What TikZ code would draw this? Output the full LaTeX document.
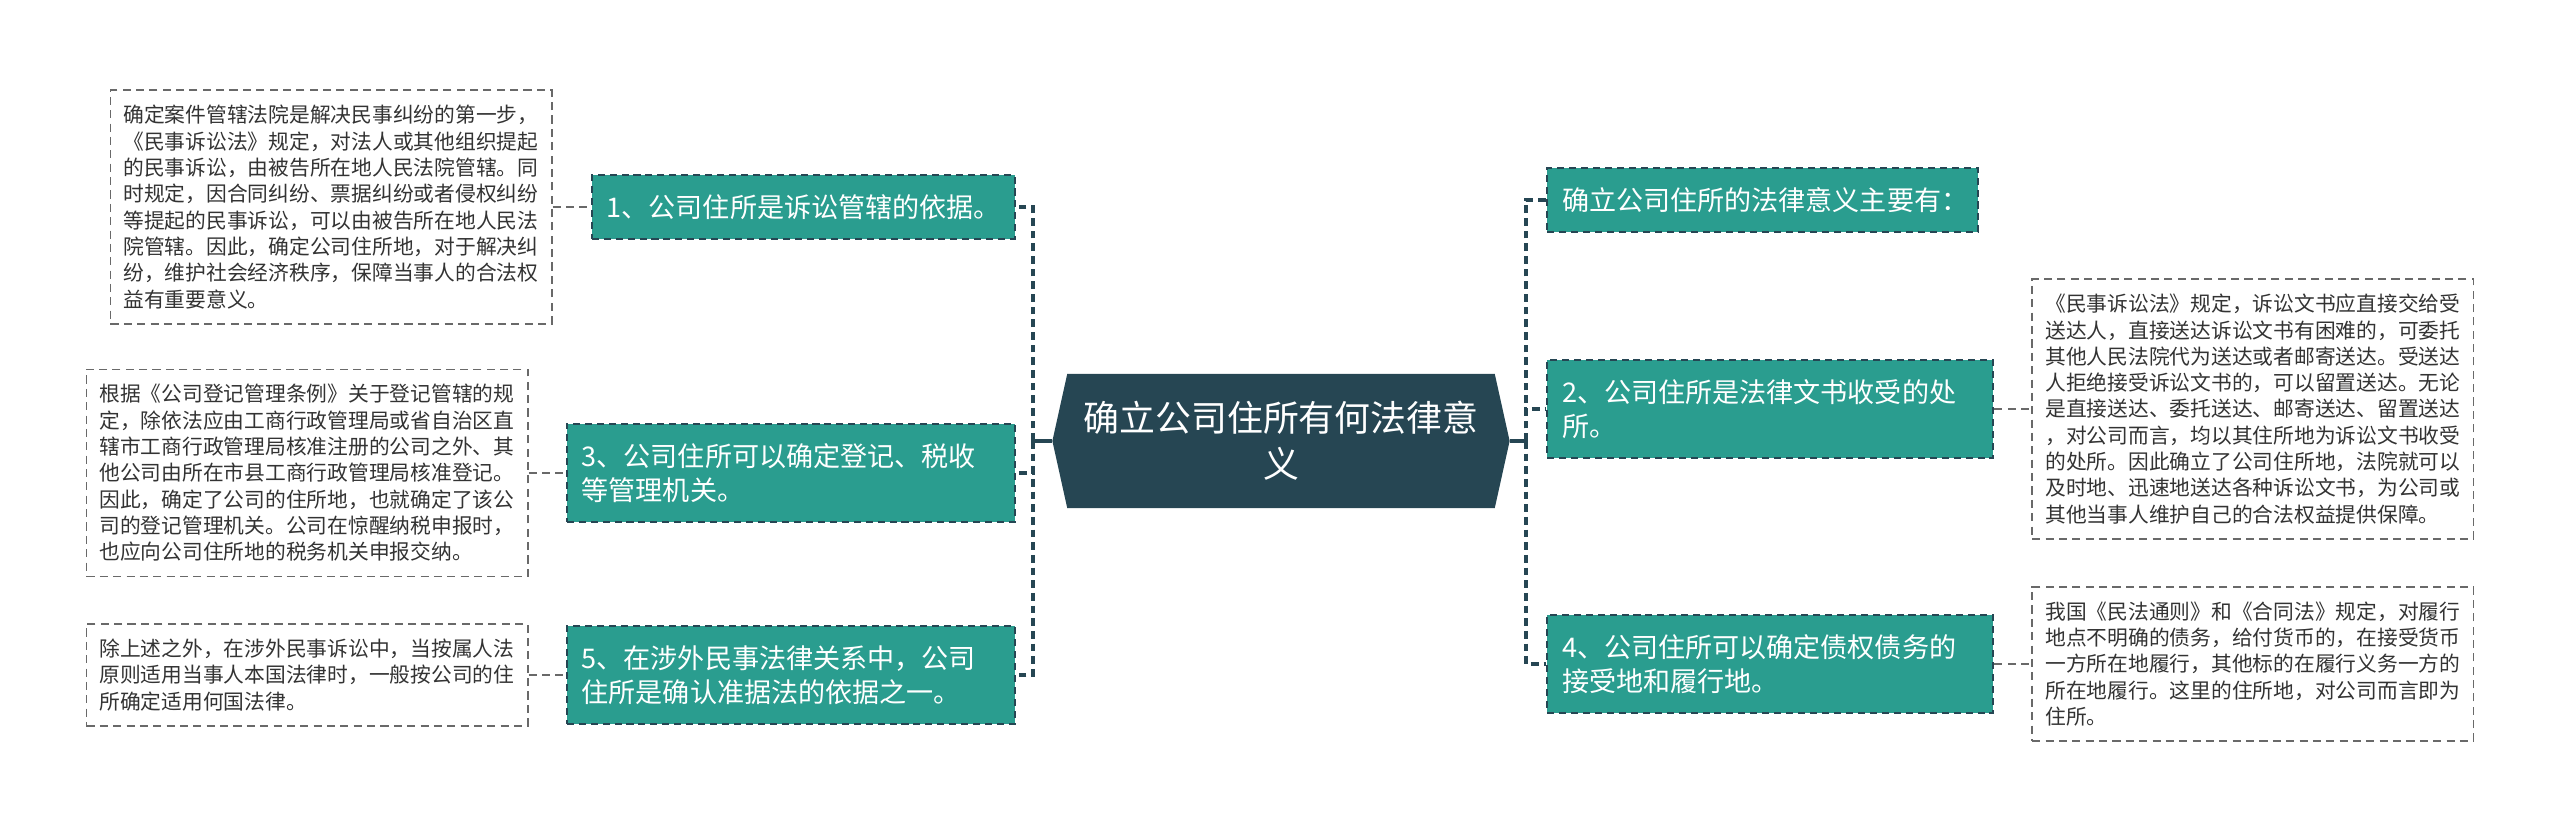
\documentclass[tikz,border=0pt]{standalone}
\usepackage{fontspec}
\usepackage{tikz}
\usetikzlibrary{shapes.symbols, positioning, calc}
\newfontfamily\cjk{Noto Sans CJK SC}
\definecolor{myslate}{RGB}{38,70,83}
\definecolor{myteal}{RGB}{42,157,143}
\definecolor{mygrey}{RGB}{105,105,105}
\definecolor{mytext}{RGB}{51,51,51}
\tikzset{
  root/.style={signal,signal to=west and east,signal pointer angle=155,fill=myslate,text=white,
    minimum width=4.57cm,minimum height=1.34cm,align=center,inner sep=0pt,
    font=\cjk\fontsize{10.2pt}{13pt}\selectfont},
  topic/.style={rectangle,draw=myslate,fill=myteal,text=white,text width=#1,align=left,
    minimum height=0.62cm,inner xsep=0.15cm,inner ysep=0.19cm,line width=0.6pt,
    dash pattern=on 2pt off 1.4pt,font=\cjk\fontsize{7.7pt}{9.8pt}\selectfont},
  leaf/.style={rectangle,draw=mygrey,fill=white,text=mytext,text width=4.15cm,align=left,
    inner xsep=0.13cm,inner ysep=0.15cm,line width=0.5pt,dash pattern=on 2.3pt off 1.5pt,
    font=\cjk\fontsize{5.9pt}{7.48pt}\selectfont},
  stem/.style={line width=0.9pt,color=myslate},
  trunk/.style={line width=0.9pt,color=myslate,dash pattern=on 2.2pt off 1.4pt},
  twig/.style={line width=0.5pt,color=mygrey,dash pattern=on 2.3pt off 1.5pt}
}
\begin{document}
\begin{tikzpicture}[x=0.01cm,y=-0.01cm]
  \useasboundingbox (0,0) rectangle (2560,831);

  % Centre
  \node[root] (root) at (1281,441) {确立公司住所有何法律意\\义};
  \coordinate (lj) at (1033,441);
  \coordinate (rj) at (1526,441);

  % Left topics
  \node[topic=3.93cm, anchor=east] (t1) at (1016,207) {1、公司住所是诉讼管辖的依据。};
  \node[topic=4.18cm, anchor=east] (t3) at (1016,473) {3、公司住所可以确定登记、税收\\等管理机关。};
  \node[topic=4.18cm, anchor=east] (t5) at (1016,675) {5、在涉外民事法律关系中，公司\\住所是确认准据法的依据之一。};

  % Right topics
  \node[topic=4.01cm, anchor=west] (t0) at (1546,200) {确立公司住所的法律意义主要有：};
  \node[topic=4.16cm, anchor=west] (t2) at (1546,409) {2、公司住所是法律文书收受的处\\所。};
  \node[topic=4.16cm, anchor=west] (t4) at (1546,664) {4、公司住所可以确定债权债务的\\接受地和履行地。};

  % Details
  \node[leaf, left=0.38cm of t1] (d1) {确定案件管辖法院是解决民事纠纷的第一步，\\《民事诉讼法》规定，对法人或其他组织提起\\的民事诉讼，由被告所在地人民法院管辖。同\\时规定，因合同纠纷、票据纠纷或者侵权纠纷\\等提起的民事诉讼，可以由被告所在地人民法\\院管辖。因此，确定公司住所地，对于解决纠\\纷，维护社会经济秩序，保障当事人的合法权\\益有重要意义。};
  \node[leaf, left=0.37cm of t3] (d3) {根据《公司登记管理条例》关于登记管辖的规\\定，除依法应由工商行政管理局或省自治区直\\辖市工商行政管理局核准注册的公司之外、其\\他公司由所在市县工商行政管理局核准登记。\\因此，确定了公司的住所地，也就确定了该公\\司的登记管理机关。公司在惊醒纳税申报时，\\也应向公司住所地的税务机关申报交纳。};
  \node[leaf, left=0.37cm of t5] (d5) {除上述之外，在涉外民事诉讼中，当按属人法\\原则适用当事人本国法律时，一般按公司的住\\所确定适用何国法律。};
  \node[leaf, right=0.37cm of t2] (d2) {《民事诉讼法》规定，诉讼文书应直接交给受\\送达人，直接送达诉讼文书有困难的，可委托\\其他人民法院代为送达或者邮寄送达。受送达\\人拒绝接受诉讼文书的，可以留置送达。无论\\是直接送达、委托送达、邮寄送达、留置送达\\，对公司而言，均以其住所地为诉讼文书收受\\的处所。因此确立了公司住所地，法院就可以\\及时地、迅速地送达各种诉讼文书，为公司或\\其他当事人维护自己的合法权益提供保障。};
  \node[leaf, right=0.37cm of t4] (d4) {我国《民法通则》和《合同法》规定，对履行\\地点不明确的债务，给付货币的，在接受货币\\一方所在地履行，其他标的在履行义务一方的\\所在地履行。这里的住所地，对公司而言即为\\住所。};

  % Connectors
  \draw[stem] (root.west) -- (lj);
  \draw[stem] (root.east) -- (rj);
  \foreach \t in {t1,t3,t5}
    \draw[trunk] (lj) |- (\t.east);
  \foreach \t in {t0,t2,t4}
    \draw[trunk] (rj) |- (\t.west);
  \draw[twig] (d1) -- (t1);
  \draw[twig] (d3) -- (t3);
  \draw[twig] (d5) -- (t5);
  \draw[twig] (t2) -- (d2);
  \draw[twig] (t4) -- (d4);
\end{tikzpicture}
\end{document}
